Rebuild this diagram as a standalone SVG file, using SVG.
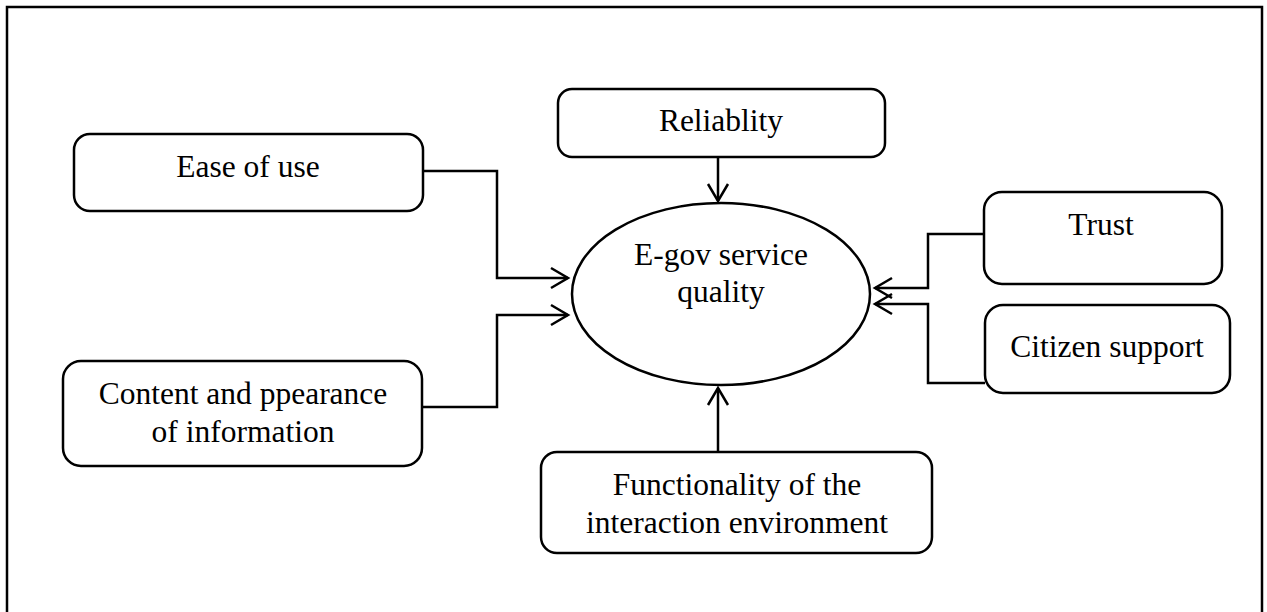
<svg xmlns="http://www.w3.org/2000/svg" width="1267" height="612" viewBox="0 0 1267 612">
<style>
.box{fill:#fff;stroke:#000;stroke-width:2.5}
.lbl{font-family:"Liberation Serif","Times New Roman",serif;font-size:31.5px;fill:#000;text-anchor:middle}
.conn{fill:none;stroke:#000;stroke-width:2.5}
</style>
<defs>
<marker id="arr" markerUnits="userSpaceOnUse" markerWidth="24" markerHeight="26" viewBox="-20 -13 24 26" refX="0" refY="0" orient="auto">
<path d="M-17,-10 L0,0 L-17,10" fill="none" stroke="#000" stroke-width="2.5"/>
</marker>
</defs>
<rect x="0" y="0" width="1267" height="612" fill="#fff"/>
<rect x="7" y="7" width="1255" height="640" fill="none" stroke="#000" stroke-width="2.5"/>
<g id="connectors">
<path class="conn" d="M718,157 L718,201" marker-end="url(#arr)"/>
<path class="conn" d="M718,452 L718,388" marker-end="url(#arr)"/>
<path class="conn" d="M423,171 L497,171 L497,278 L568,278" marker-end="url(#arr)"/>
<path class="conn" d="M422,407 L497,407 L497,315 L568,315" marker-end="url(#arr)"/>
<path class="conn" d="M984,234 L928,234 L928,288 L875,288" marker-end="url(#arr)"/>
<path class="conn" d="M985,383 L928,383 L928,304 L875,304" marker-end="url(#arr)"/>
</g>
<g id="node-quality">
<ellipse class="box" cx="721" cy="294" rx="149" ry="91"/>
<text class="lbl" x="721" y="265">E-gov service</text>
<text class="lbl" x="721" y="302">quality</text>
</g>
<g id="node-reliability">
<rect class="box" x="558" y="89" width="327" height="68" rx="14"/>
<text class="lbl" x="721" y="131">Reliablity</text>
</g>
<g id="node-ease">
<rect class="box" x="74" y="134" width="349" height="77" rx="16"/>
<text class="lbl" x="248" y="177">Ease of use</text>
</g>
<g id="node-content">
<rect class="box" x="63" y="361" width="359" height="105" rx="18"/>
<text class="lbl" x="243" y="404">Content and ppearance</text>
<text class="lbl" x="243" y="442">of information</text>
</g>
<g id="node-trust">
<rect class="box" x="984" y="192" width="238" height="92" rx="18"/>
<text class="lbl" x="1101" y="235">Trust</text>
</g>
<g id="node-citizen">
<rect class="box" x="985" y="305" width="245" height="88" rx="18"/>
<text class="lbl" x="1107" y="357">Citizen support</text>
</g>
<g id="node-functionality">
<rect class="box" x="541" y="452" width="391" height="101" rx="16"/>
<text class="lbl" x="737" y="495">Functionality of the</text>
<text class="lbl" x="737" y="533">interaction environment</text>
</g>
</svg>
